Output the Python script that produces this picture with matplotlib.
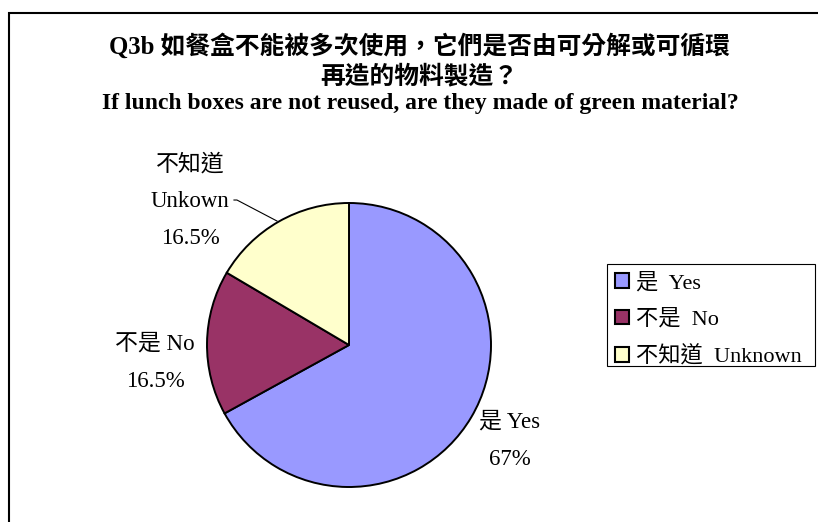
import matplotlib
matplotlib.use("Agg")
import matplotlib.pyplot as plt
from matplotlib.patches import Rectangle, Patch

# Datos del gráfico
labels = ["是  Yes", "不是  No", "不知道  Unknown"]
slice_labels = ["是 Yes\n67%", "不是 No\n16.5%", "不知道\nUnkown\n16.5%"]
values = [67, 16.5, 16.5]
colors = ["#9999FF", "#993366", "#FFFFCC"]

title_zh = "Q3b 如餐盒不能被多次使用，它們是否由可分解或可循環\n再造的物料製造？"
title_en = "If lunch boxes are not reused, are they made of green material?"

serif = ["Liberation Serif", "Noto Sans CJK TC"]

fig = plt.figure(figsize=(8.18, 5.22), dpi=100)
W, H = 818, 522

# Marco del gráfico (recortado a la derecha y abajo)
fig.patches.append(Rectangle((9 / W, -0.1), 1.2, (522 - 13) / H + 0.1,
                             transform=fig.transFigure, fill=False,
                             edgecolor="black", linewidth=1.5))

fig.text(419 / W, 1 - 60.5 / H, title_zh, ha="center", va="center",
         family=serif, fontweight="bold", fontsize=17.8, linespacing=1.3)
fig.text(420 / W, 1 - 103 / H, title_en, ha="center", va="center",
         family=serif, fontweight="bold", fontsize=17)

# Pastel: centro (349, 345), radio 142 px
cx, cy, r = 349, 345, 142
ax = fig.add_axes([(cx - r) / W, (H - cy - r) / H, 2 * r / W, 2 * r / H])
wedges, _ = ax.pie(values, colors=colors, startangle=90, counterclock=False,
                   wedgeprops=dict(edgecolor="black", linewidth=1.4))
ax.set_xlim(-1, 1)
ax.set_ylim(-1, 1)
ax.axis("off")

txt = dict(ha="center", va="center", family=serif, fontsize=16.5,
           linespacing=2.0, clip_on=False)
ax.text(1.134, -0.675, slice_labels[0], **txt)
ax.text(-1.366, -0.125, slice_labels[1], **txt)
ax.text(-1.12, 1.01, slice_labels[2], **txt)
ax.plot([-0.81, -0.789, -0.507], [1.021, 1.021, 0.873], color="black",
        linewidth=0.8, clip_on=False)

# Leyenda sin marco + marco aparte
handles = [Patch(facecolor=c, edgecolor="black", linewidth=1.5) for c in colors]
fig.legend(handles, labels, loc="center left",
           bbox_to_anchor=(607 / W, 1 - 320 / H), frameon=False,
           borderpad=0.35, borderaxespad=0, handlelength=0.65,
           handleheight=0.65, handletextpad=0.3, labelspacing=0.72,
           prop=dict(family=serif, size=16))
fig.patches.append(Rectangle((607 / W, 1 - 366 / H), 208 / W, 102 / H,
                             transform=fig.transFigure, fill=False,
                             edgecolor="black", linewidth=0.8))

fig.savefig("out.png", dpi=100)
